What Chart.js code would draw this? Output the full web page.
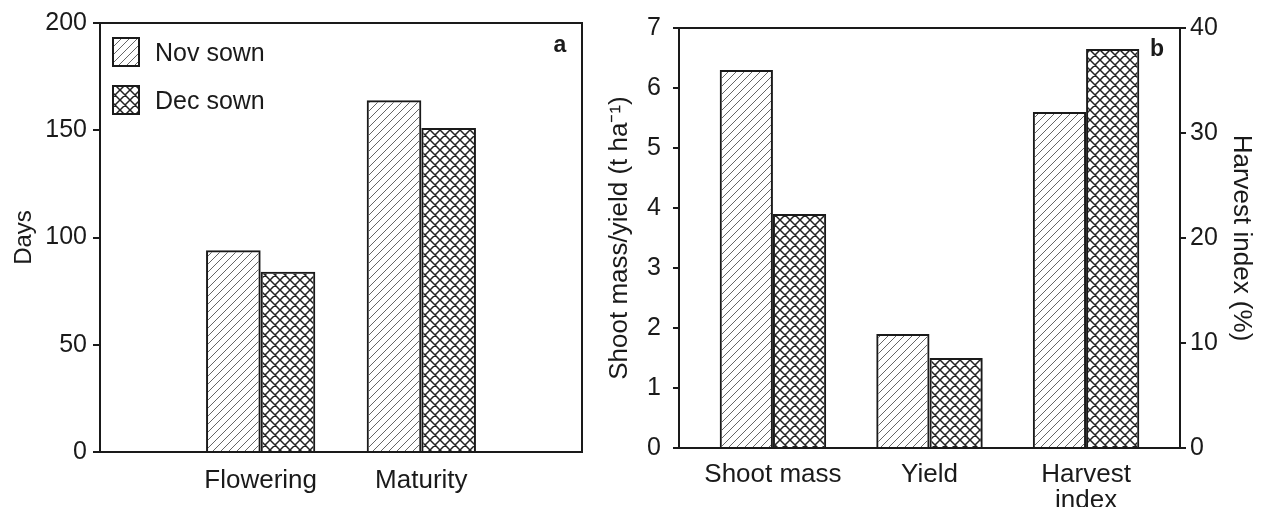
<!DOCTYPE html>
<html>
<head>
<meta charset="utf-8">
<script src="https://cdn.jsdelivr.net/npm/chart.js@4.4.0/dist/chart.umd.min.js"></script>
<style>
body { margin: 0; background: #fff; }
#grafica_a { position: absolute; left: 0; top: 0; }
#grafica_b { position: absolute; left: 600px; top: 0; }
</style>
</head>
<body>
<canvas id="grafica_a" width="600" height="507"></canvas>
<canvas id="grafica_b" width="666" height="507"></canvas>
<script>
// panel a
var fases = ["Flowering", "Maturity"];
var dias_nov = [94, 164];
var dias_dec = [84, 151];

// panel b
var partes = ["Shoot mass", "Yield", ["Harvest", "index"]];
var masa_nov = [6.3, 1.9];
var masa_dec = [3.9, 1.5];
var indice_nov = [32];
var indice_dec = [38];

var series = ["Nov sown", "Dec sown"];
var fuente = '"Liberation Sans", Arial, sans-serif';
var negro = "#1a1a1a";

Chart.defaults.font.family = fuente;
Chart.defaults.color = negro;

function trama_rayas() {
    var c = document.createElement("canvas");
    var s = 8;
    c.width = s; c.height = s;
    var ctx = c.getContext("2d");
    ctx.strokeStyle = "#666";
    ctx.lineWidth = 1;
    ctx.beginPath();
    ctx.moveTo(0, s); ctx.lineTo(s, 0);
    ctx.moveTo(-1, 1); ctx.lineTo(1, -1);
    ctx.moveTo(s - 1, s + 1); ctx.lineTo(s + 1, s - 1);
    ctx.stroke();
    return ctx.createPattern(c, "repeat");
}

function trama_cruzada() {
    var c = document.createElement("canvas");
    var s = 10;
    c.width = s; c.height = s;
    var ctx = c.getContext("2d");
    ctx.strokeStyle = "#222";
    ctx.lineWidth = 1.5;
    ctx.beginPath();
    ctx.moveTo(0, s); ctx.lineTo(s, 0);
    ctx.moveTo(-1, 1); ctx.lineTo(1, -1);
    ctx.moveTo(s - 1, s + 1); ctx.lineTo(s + 1, s - 1);
    ctx.moveTo(0, 0); ctx.lineTo(s, s);
    ctx.moveTo(-1, s - 1); ctx.lineTo(1, s + 1);
    ctx.moveTo(s - 1, -1); ctx.lineTo(s + 1, 1);
    ctx.stroke();
    return ctx.createPattern(c, "repeat");
}

var relleno = [trama_rayas(), trama_cruzada()];

// marco alrededor del area
var marco = {
    id: "marco",
    afterDatasetsDraw: function (chart) {
        var a = chart.chartArea;
        var ctx = chart.ctx;
        ctx.save();
        ctx.strokeStyle = negro;
        ctx.lineWidth = 2;
        ctx.strokeRect(a.left, a.top, a.right - a.left, a.bottom - a.top);
        ctx.restore();
    }
};

function letra_panel(letra, dx, dy) {
    return {
        id: "letra_" + letra,
        afterDraw: function (chart) {
            var a = chart.chartArea;
            var ctx = chart.ctx;
            ctx.save();
            ctx.fillStyle = negro;
            ctx.font = "bold 23px " + fuente;
            ctx.textAlign = "center";
            ctx.textBaseline = "middle";
            ctx.fillText(letra, a.right - dx, a.top + dy);
            ctx.restore();
        }
    };
}

var leyenda = {
    id: "leyenda",
    afterDraw: function (chart) {
        var a = chart.chartArea;
        var ctx = chart.ctx;
        ctx.save();
        for (var i = 0; i < series.length; i++) {
            var x = a.left + 13;
            var y = a.top + 15 + i * 48;
            ctx.fillStyle = relleno[i];
            ctx.fillRect(x, y, 26, 28);
            ctx.strokeStyle = negro;
            ctx.lineWidth = 2;
            ctx.strokeRect(x, y, 26, 28);
            ctx.fillStyle = negro;
            ctx.font = "25px " + fuente;
            ctx.textBaseline = "middle";
            ctx.fillText(series[i], x + 42, y + 16);
        }
        ctx.restore();
    }
};

function puntos(valores, inicio) {
    return valores.map(function (v, i) { return { x: inicio + i, y: v }; });
}

function eje_x(min, max, etiquetas, alto, sep) {
    return {
        type: "linear",
        min: min,
        max: max,
        offset: false,
        grid: { display: false, offset: false },
        border: { display: false },
        afterBuildTicks: function (s) {
            s.ticks = etiquetas.map(function (e, i) { return { value: i + 1 }; });
        },
        afterFit: function (s) { s.height = alto; },
        ticks: {
            padding: sep,
            maxRotation: 0,
            autoSkip: false,
            font: { size: 26, lineHeight: 1.0 },
            callback: function (v) { return etiquetas[v - 1]; }
        }
    };
}

function eje_y(pos, min, max, paso, titulo, ancho, largo, sep, pad_titulo, tam_titulo) {
    return {
        position: pos,
        min: min,
        max: max,
        grid: { display: true, drawOnChartArea: false, drawTicks: true, tickLength: largo, color: negro, lineWidth: 2 },
        border: { display: false },
        afterFit: function (s) { s.width = ancho; },
        ticks: { stepSize: paso, padding: sep, font: { size: 25 } },
        title: { display: true, text: titulo, font: { size: tam_titulo }, padding: { top: pad_titulo, bottom: 0 } }
    };
}

var opciones_comunes = {
    responsive: false,
    animation: false,
    plugins: { legend: { display: false }, tooltip: { enabled: false } },
    datasets: { bar: { barPercentage: 1, categoryPercentage: 0.68, borderColor: negro, borderWidth: 2, skipNull: true } }
};

var grafica_a = new Chart(document.getElementById("grafica_a"), {
    type: "bar",
    data: {
        datasets: [
            { label: series[0], data: puntos(dias_nov, 1), backgroundColor: relleno[0] },
            { label: series[1], data: puntos(dias_dec, 1), backgroundColor: relleno[1] }
        ]
    },
    options: Object.assign({}, opciones_comunes, {
        layout: { padding: { left: 0, right: 18, top: 23, bottom: 0 } },
        scales: {
            x: eje_x(0, 3, fases, 55, 8),
            y: eje_y("left", 0, 200, 50, "Days", 100, 7, 6, 10, 24)
        }
    }),
    plugins: [marco, leyenda, letra_panel("a", 22, 23)]
});

var grafica_b = new Chart(document.getElementById("grafica_b"), {
    type: "bar",
    data: {
        datasets: [
            { label: series[0], data: puntos(masa_nov, 1), backgroundColor: relleno[0], yAxisID: "y" },
            { label: series[1], data: puntos(masa_dec, 1), backgroundColor: relleno[1], yAxisID: "y" },
            { label: series[0], data: puntos(indice_nov, 3), backgroundColor: relleno[0], yAxisID: "y2" },
            { label: series[1], data: puntos(indice_dec, 3), backgroundColor: relleno[1], yAxisID: "y2" }
        ]
    },
    options: Object.assign({}, opciones_comunes, {
        layout: { padding: { left: 0, right: 6, top: 28, bottom: 0 } },
        scales: {
            x: eje_x(0.4, 3.6, partes, 59, 6),
            y: eje_y("left", 0, 7, 1, "Shoot mass/yield (t ha\u207B\u00B9)", 79, 6, 12, 4, 26),
            y2: eje_y("right", 0, 40, 10, "Harvest index (%)", 80, 6, 4, 3, 26)
        }
    }),
    plugins: [marco, letra_panel("b", 23, 22)]
});
</script>
</body>
</html>
